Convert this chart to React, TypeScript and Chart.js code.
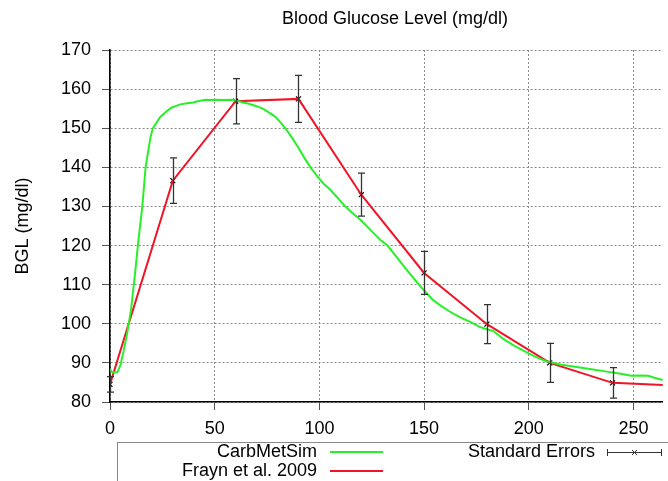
import React, { useEffect, useRef } from "react";
import { Chart, registerables } from "chart.js";

Chart.register(...registerables);

// ---- Data ----
const chartTitle = "Blood Glucose Level (mg/dl)";
const yAxisTitle = "BGL (mg/dl)";

// CarbMetSim simulated curve (minutes, mg/dl)
const simTimes = [
  0, 1, 3.5, 5, 6.5, 8, 10, 12, 13.5, 15.4, 17, 19.3, 20.5, 21.7, 24, 27.2, 29.5, 31, 33.5, 36,
  39.7, 42.9, 46, 48, 50.8, 54, 58.6, 61, 63.3, 66, 69.6, 73, 76, 79, 81.4, 84, 86.9, 90, 93.2,
  96, 99.5, 102, 105, 108, 112, 116, 120, 124, 129, 132.5, 137, 142, 146, 150, 154, 157.7, 162,
  167, 172, 176.5, 180, 183, 187.6, 193, 198.6, 203, 208, 215, 222, 230, 238, 244, 249, 253, 257,
  260, 264, 268,
];
const simGlucose = [
  88.4, 87.6, 87.6, 89.5, 93, 97, 103.4, 113, 121, 129.8, 140, 147.6, 150, 151, 152.9, 154.4,
  155.3, 155.6, 156.1, 156.3, 156.6, 157, 157.3, 157.2, 157.3, 157.2, 157.3, 157, 156.6, 156.3,
  155.7, 155, 154, 152.9, 151.5, 149.8, 147.6, 145, 142.1, 139.8, 137.4, 135.8, 134.4, 132.6,
  130.2, 128.2, 126.4, 124.2, 121.5, 120, 117, 113.6, 111, 108.5, 106.2, 104.7, 103.2, 101.7,
  100.5, 99.2, 98.6, 98.2, 96.2, 94.4, 92.8, 91.6, 90.5, 89.6, 89, 88.4, 87.7, 87.2, 86.7, 86.8,
  86.7, 86.2, 85.6, 85.2,
];

// Frayn et al. 2009 measured
const fraynTimes = [0, 30, 60, 90, 120, 150, 180, 210, 240, 270];
const fraynGlucose = [84.5, 136.6, 156.9, 157.5, 133.0, 113.0, 99.9, 90.0, 84.9, 84.2];
// Standard errors (only for measured points 0..240)
const errTimes = [0, 30, 60, 90, 120, 150, 180, 210, 240];
const errMeans = [84.5, 136.6, 156.9, 157.5, 133.0, 113.0, 99.9, 90.0, 84.9];
const errValues = [2.0, 5.8, 5.8, 6.0, 5.5, 5.5, 5.0, 5.0, 3.9];

const xTickStep = 50;
const yTickStep = 10;

const FONT = "'Liberation Sans', Arial, Helvetica, sans-serif";
const GREEN = "rgb(40,240,40)";
const RED = "rgb(240,20,40)";

const errorBarPlugin = {
  id: "errorBars",
  afterDatasetsDraw(chart: any) {
    const { ctx, scales } = chart;
    const xs = scales.x;
    const ys = scales.y;
    ctx.save();
    ctx.beginPath();
    ctx.rect(chart.chartArea.left - 10, chart.chartArea.top - 10, chart.chartArea.right - chart.chartArea.left + 20, chart.chartArea.bottom - chart.chartArea.top + 20);
    ctx.clip();
    ctx.strokeStyle = "#333";
    ctx.lineWidth = 1.3;
    errTimes.forEach((t, i) => {
      const x = Math.round(xs.getPixelForValue(t)) + 0.5;
      const yTop = ys.getPixelForValue(errMeans[i] + errValues[i]);
      const yBot = ys.getPixelForValue(errMeans[i] - errValues[i]);
      ctx.beginPath();
      ctx.moveTo(x, yTop);
      ctx.lineTo(x, yBot);
      ctx.moveTo(x - 3.5, yTop);
      ctx.lineTo(x + 3.5, yTop);
      ctx.moveTo(x - 3.5, yBot);
      ctx.lineTo(x + 3.5, yBot);
      ctx.stroke();
    });
    ctx.restore();
  },
};

const overlayPlugin = {
  id: "overlay",
  afterDraw(chart: any) {
    const { ctx, chartArea } = chart;
    ctx.save();
    // title
    ctx.fillStyle = "#000";
    ctx.font = `18px ${FONT}`;
    ctx.textAlign = "center";
    ctx.textBaseline = "middle";
    ctx.fillText(chartTitle, 395, 19);
    // y axis title
    ctx.save();
    ctx.translate(23, (chartArea.top + chartArea.bottom) / 2);
    ctx.rotate(-Math.PI / 2);
    ctx.fillText(yAxisTitle, 0, 0);
    ctx.restore();

    // legend box
    ctx.strokeStyle = "#888";
    ctx.lineWidth = 1;
    ctx.strokeRect(117.5, 442.5, 700, 100);
    ctx.textAlign = "right";
    ctx.textBaseline = "middle";
    ctx.fillStyle = "#000";
    ctx.fillText("CarbMetSim", 317, 452);
    ctx.fillText("Frayn et al. 2009", 317, 471);
    ctx.fillText("Standard Errors", 595, 452);
    ctx.lineWidth = 2;
    ctx.strokeStyle = GREEN;
    ctx.beginPath();
    ctx.moveTo(330, 452);
    ctx.lineTo(383, 452);
    ctx.stroke();
    ctx.strokeStyle = RED;
    ctx.beginPath();
    ctx.moveTo(330, 471);
    ctx.lineTo(383, 471);
    ctx.stroke();
    // error symbol
    ctx.strokeStyle = "#333";
    ctx.lineWidth = 1;
    ctx.beginPath();
    ctx.moveTo(607, 452.5);
    ctx.lineTo(662, 452.5);
    ctx.moveTo(607.5, 449);
    ctx.lineTo(607.5, 456);
    ctx.moveTo(661.5, 449);
    ctx.lineTo(661.5, 456);
    ctx.moveTo(632, 450);
    ctx.lineTo(637, 455);
    ctx.moveTo(637, 450);
    ctx.lineTo(632, 455);
    ctx.stroke();
    ctx.restore();
  },
};

export default function App() {
  const ref = useRef<HTMLCanvasElement | null>(null);
  useEffect(() => {
    if (!ref.current) return;
    const chart = new Chart(ref.current, {
      type: "line",
      data: {
        datasets: [
          {
            label: "CarbMetSim",
            data: simTimes.map((t, i) => ({ x: t, y: simGlucose[i] })),
            borderColor: GREEN,
            borderWidth: 2,
            pointRadius: 0,
            tension: 0,
          },
          {
            label: "Frayn et al. 2009",
            data: fraynTimes.map((t, i) => ({ x: t, y: fraynGlucose[i] })),
            borderColor: RED,
            borderWidth: 2,
            pointRadius: 0,
            tension: 0,
          },
          {
            label: "Standard Errors",
            data: errTimes.map((t, i) => ({ x: t, y: errMeans[i] })),
            showLine: false,
            pointStyle: "crossRot",
            pointRadius: 3.5,
            borderColor: "#000",
            borderWidth: 1.2,
            backgroundColor: "#000",
          },
        ],
      },
      options: {
        responsive: false,
        animation: false,
        layout: { padding: { top: 50, left: 0, right: 0, bottom: 0 } },
        plugins: {
          legend: { display: false },
          title: { display: false },
          tooltip: { enabled: false },
        },
        scales: {
          x: {
            type: "linear",
            min: 0,
            max: 264,
            afterFit: (s: any) => {
              s.height = 79;
            },
            ticks: {
              stepSize: xTickStep,
              includeBounds: false,
              maxRotation: 0,
              padding: 8,
              color: "#000",
              font: { family: FONT, size: 18 },
            },
            grid: {
              color: "#8a8a8a",
              lineWidth: 1,
              tickLength: 8,
              tickColor: "#555",
              tickBorderDash: [],
            },
            border: { display: true, color: "#000", width: 1.6, dash: [2, 2] },
          },
          y: {
            type: "linear",
            min: 80,
            max: 170,
            afterFit: (s: any) => {
              s.width = 110;
            },
            ticks: {
              stepSize: yTickStep,
              padding: 11,
              color: "#000",
              font: { family: FONT, size: 18 },
            },
            grid: {
              color: "#8a8a8a",
              lineWidth: 1,
              tickLength: 8,
              tickColor: "#555",
              tickBorderDash: [],
            },
            border: { display: true, color: "#000", width: 1.6, dash: [2, 2] },
          },
        },
      } as any,
      plugins: [errorBarPlugin, overlayPlugin],
    });
    return () => chart.destroy();
  }, []);
  return (
    <div style={{ position: "fixed", left: 0, top: 0, width: 668, height: 481, background: "#fff" }}>
      <canvas ref={ref} width={668} height={481} style={{ display: "block" }} />
    </div>
  );
}
